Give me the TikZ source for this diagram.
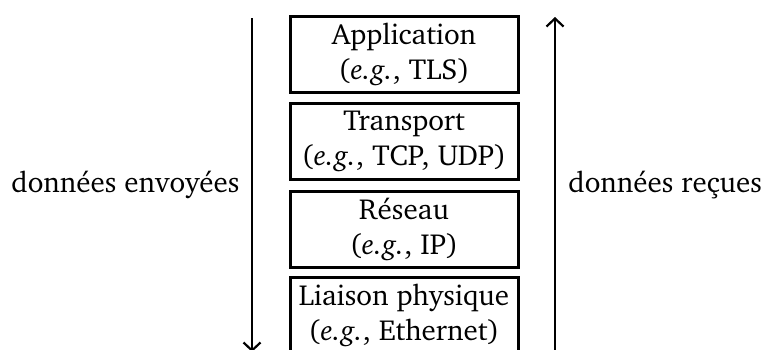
\documentclass[tikz,border=0pt]{standalone}
\usepackage[T1]{fontenc}
\usepackage{charter}
\usetikzlibrary{arrows.meta}
\begin{document}
\begin{tikzpicture}[x=0.5pt,y=-0.5pt,
  layer/.style={draw, line width=1.5pt, minimum width=114pt, minimum height=38pt,
    inner sep=0pt, align=center, font=\fontsize{14.5}{17.5}\selectfont},
  lbl/.style={font=\fontsize{14.5}{17.5}\selectfont, inner sep=0pt},
  flow/.style={line width=1.1pt, -{Straight Barb[length=4pt,width=8.5pt,line width=1.1pt]}}]
\useasboundingbox (0,0) rectangle (765,349);
\node[layer] (app) at (404,54) {Application\\(\textit{e.g.}, TLS)};
\node[layer] (tra) at (404,141) {Transport\\(\textit{e.g.}, TCP, UDP)};
\node[layer] (res) at (404,229.5) {Réseau\\(\textit{e.g.}, IP)};
\node[layer] (lia) at (404,315) {Liaison physique\\(\textit{e.g.}, Ethernet)};
\coordinate (ltop) at (252,18);
\coordinate (lbot) at (252,352);
\coordinate (rbot) at (555,352);
\coordinate (rtop) at (555,17);
\draw[flow] (ltop) -- (lbot);
\draw[flow] (rbot) -- (rtop);
\node[lbl, anchor=east] (env) at (240,185) {données envoyées};
\node[lbl, anchor=west] (rec) at (568,185) {données reçues};
\end{tikzpicture}
\end{document}
